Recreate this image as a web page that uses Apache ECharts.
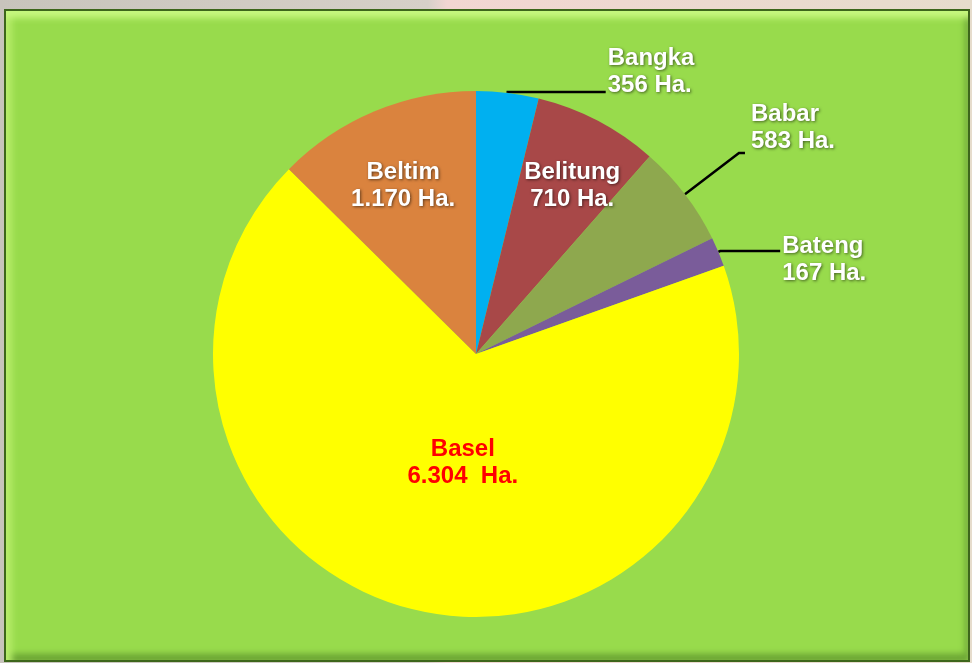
<!DOCTYPE html>
<html>
<head>
<meta charset="utf-8">
<script src="https://cdn.jsdelivr.net/npm/echarts@6/dist/echarts.min.js"></script>
<style>
    html, body { margin: 0; width: 972px; height: 663px; overflow: hidden;
        background: linear-gradient(90deg, #c8c4bc 0%, #d6d0c8 44%, #f2d6d2 46%, #e6dccc 100%); }
    #frame { position: absolute; left: 4px; top: 9px; width: 966px; height: 653px; box-sizing: border-box;
        background: #98db4c; border: 2px solid #3d661b;
        box-shadow: inset 0 10px 6px -3px #c6f77e, inset 9px 0 6px -3px #b6ec6a,
                    inset -6px 0 6px -3px #6fa838, inset 0 -9px 6px -3px #6aa334; }
    #main { position: absolute; left: 0; top: 0; width: 972px; height: 663px; }
</style>
</head>
<body>
<div id="frame"></div>
<div id="main"></div>
<script>
'use strict';

const categories = ['Bangka', 'Belitung', 'Babar', 'Bateng', 'Basel', 'Beltim'];
const values = [356, 710, 583, 167, 6304, 1170];
const colors = ['#00b0f0', '#a84848', '#8ea84e', '#7a5c9a', '#ffff00', '#da833e'];

// label style per slice: position, leader line, shift
const positions = ['outside', 'inside', 'outside', 'outside', 'inside', 'inside'];
const lineLengths = [[1, 98], [0, 0], [68, 6], [2, 60], [0, 0], [0, 0]];
const labelShift = [[0, -20], [34, -49], [4, -25], [0, 9], [16, -22], [-21, -44]];

function fmt(v) {
    return String(v).replace(/\B(?=(\d{3})+(?!\d))/g, '.');
}

const whiteLabel = {
    color: '#ffffff',
    textShadowColor: 'rgba(0,0,0,0.55)',
    textShadowBlur: 3,
    textShadowOffsetX: 1,
    textShadowOffsetY: 1
};

const data = categories.map(function (name, i) {
    const isBasel = name === 'Basel';
    return {
        name: name,
        value: values[i],
        itemStyle: { color: colors[i] },
        label: Object.assign({
            position: positions[i],
            formatter: function (p) {
                return p.name + '\n' + fmt(p.value) + (isBasel ? '  Ha.' : ' Ha.');
            }
        }, isBasel ? { color: '#ff0000' } : whiteLabel),
        labelLine: {
            show: positions[i] === 'outside',
            length: lineLengths[i][0],
            length2: lineLengths[i][1]
        }
    };
});

const chart = echarts.init(document.getElementById('main'));
chart.setOption({
    backgroundColor: 'transparent',
    animation: false,
    series: [
        {
            type: 'pie',
            center: [476, 354],
            radius: 263,
            startAngle: 90,
            clockwise: true,
            avoidLabelOverlap: false,
            data: data,
            label: {
                fontFamily: 'Liberation Sans, Arial, sans-serif',
                fontWeight: 'bold',
                fontSize: 24,
                lineHeight: 27,
                distanceToLabelLine: 2
            },
            labelLine: {
                lineStyle: { color: '#000000', width: 2.5 }
            },
            labelLayout: function (params) {
                const s = labelShift[params.dataIndex];
                return { dx: s[0], dy: s[1] };
            },
            emphasis: { disabled: true }
        }
    ]
});
window.addEventListener('resize', function () {
    chart.resize();
});
</script>
</body>
</html>
